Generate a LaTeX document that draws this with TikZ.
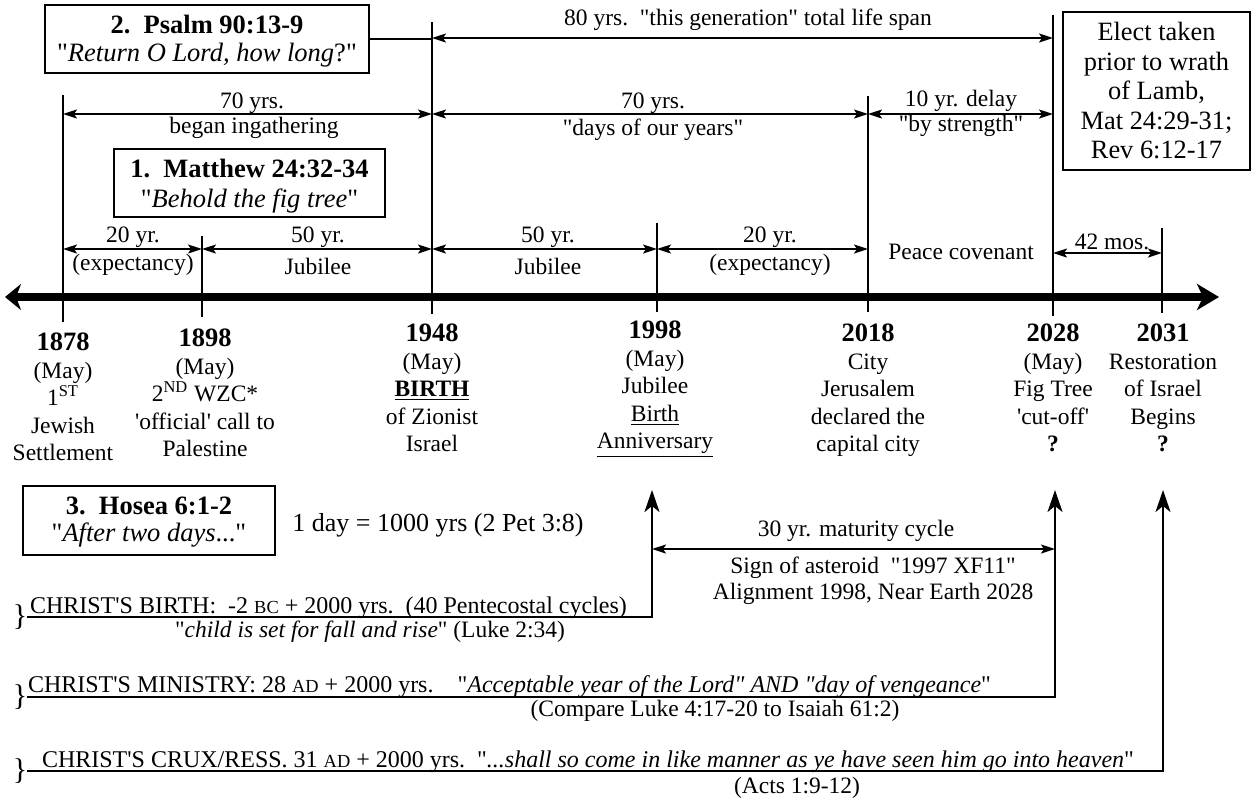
\documentclass[tikz,border=0pt]{standalone}
\usepackage{fontspec}
\setmainfont{Liberation Serif}
\usetikzlibrary{arrows.meta}
\newcommand\myDQ{\textquotedbl}
\newcommand\mySQ{\textquotesingle}
\newcommand\yrlab[1]{{\fontsize{13.25}{13.75}\selectfont\bfseries #1}}
\newcommand\smallc[1]{{\fontsize{9.2}{9.2}\selectfont #1}}
\begin{document}
\begin{tikzpicture}[x=0.5pt,y=-0.5pt,
 every node/.style={inner sep=0pt,outer sep=0pt},
 txt/.style={font=\fontsize{11.75}{13.75}\selectfont,align=center},
 lab/.style={txt,anchor=north},
 bigbox/.style={draw,line width=0.85pt,align=center},
 tick/.style={line width=1pt},
 span/.style={line width=0.9pt,{Stealth[length=7pt,width=4.5pt,inset=1.5pt]}-{Stealth[length=7pt,width=4.5pt,inset=1.5pt]}},
 timeline/.style={line width=4pt,{Stealth[length=8pt,width=13pt,inset=2.5pt]}-{Stealth[length=11pt,width=13pt,inset=3pt]}},
 botline/.style={line width=1.25pt,-{Stealth[length=11pt,width=7.5pt,inset=3pt]}},
 bracech/.style={font=\fontsize{15}{15}\selectfont},
 botxt/.style={font=\fontsize{12}{14}\selectfont,anchor=base west},
]
\useasboundingbox (0,0) rectangle (1256,800);

% main time line
\coordinate (tlL) at (5,297);
\coordinate (tlR) at (1219,297);
\draw[timeline] (tlL) -- (tlR);

% ticks
\coordinate (k1878a) at (63,95);   \coordinate (k1878b) at (63,322);
\coordinate (k1898a) at (202,236); \coordinate (k1898b) at (202,317);
\coordinate (k1948a) at (432,22);  \coordinate (k1948b) at (432,314);
\coordinate (k1998a) at (657,223); \coordinate (k1998b) at (657,312);
\coordinate (k2018a) at (868,96);  \coordinate (k2018b) at (868,312);
\coordinate (k2028a) at (1053,15); \coordinate (k2028b) at (1053,316);
\coordinate (k2031a) at (1162,228); \coordinate (k2031b) at (1162,313);
\draw[tick] (k1878a) -- (k1878b);
\draw[tick] (k1898a) -- (k1898b);
\draw[tick] (k1948a) -- (k1948b);
\draw[tick] (k1998a) -- (k1998b);
\draw[tick] (k2018a) -- (k2018b);
\draw[tick] (k2028a) -- (k2028b);
\draw[tick] (k2031a) -- (k2031b);

% 80 years
\coordinate (g80a) at (432,38); \coordinate (g80b) at (1053,38);
\draw[span] (g80a) -- (g80b);
\node[txt] (l80) at (748,20) {80 yrs.\ \ \myDQ this generation\myDQ\ total life span};

% Psalm box
\node[bigbox,minimum width=162pt,minimum height=34pt] (psalm) at (207,39) {};
\node[align=center,font=\fontsize{13.25}{14}\selectfont] (psalmtxt) at (207,41)
  {\textbf{2.\ \ Psalm 90:13-9}\\\myDQ\textit{Return O Lord, how long}?\myDQ};
\draw[tick] (psalm.east) -- (psalm.east -| g80a);

% 70 / 70 / 10
\coordinate (g70a) at (63,114); \coordinate (g70b) at (432,114);
\coordinate (g70c) at (868,114); \coordinate (g10) at (1053,114);
\draw[span] (g70a) -- (g70b);
\draw[span] (g70b) -- (g70c);
\draw[span] (g70c) -- (g10);
\node[txt] (l70a) at (252,103) {70 yrs.};
\node[txt] (l70a2) at (254,128) {began ingathering};
\node[txt] (l70b) at (653,103) {70 yrs.};
\node[txt] (l70b2) at (653,130) {\myDQ days of our years\myDQ};
\node[txt] (l10) at (961,101) {10 yr. delay};
\node[txt] (l10b) at (961,126) {\myDQ by strength\myDQ};

% Matthew box
\node[bigbox,minimum width=135.5pt,minimum height=34pt] (matt) at (249.5,183) {};
\node[align=center,font=\fontsize{13.25}{15}\selectfont] (matttxt) at (249.5,186)
  {\textbf{1.\ \ Matthew 24:32-34}\\\myDQ\textit{Behold the fig tree}\myDQ};

% Elect box
\node[bigbox,font=\fontsize{13.2}{14.75}\selectfont,minimum width=93.5pt,minimum height=79pt] (elect) at (1156.5,91)
  {Elect taken\\prior to wrath\\of Lamb,\\Mat 24:29-31;\\Rev 6:12-17};

% lower spans
\coordinate (j1) at (63,249); \coordinate (j2) at (202,249); \coordinate (j3) at (432,249);
\coordinate (j4) at (657,249); \coordinate (j5) at (868,249);
\coordinate (m1) at (1053,253); \coordinate (m2) at (1162,253);
\draw[span] (j1) -- (j2);
\draw[span] (j2) -- (j3);
\draw[span] (j3) -- (j4);
\draw[span] (j4) -- (j5);
\draw[span] (m1) -- (m2);
\node[txt] (s1) at (133,237) {20 yr.};
\node[txt] (s1b) at (133,265) {(expectancy)};
\node[txt] (s2) at (318,237) {50 yr.};
\node[txt] (s2b) at (318,266) {Jubilee};
\node[txt] (s3) at (548,237) {50 yr.};
\node[txt] (s3b) at (548,266) {Jubilee};
\node[txt] (s4) at (770,237) {20 yr.};
\node[txt] (s4b) at (770,265) {(expectancy)};
\node[txt] (peace) at (961,252) {Peace covenant};
\node[txt] (s42) at (1112,242) {42 mos.};

% year labels
\node[lab] (y1878) at (63,333) {\yrlab{1878}\\(May)\\1\textsuperscript{ST}\\Jewish\\Settlement};
\node[lab] (y1898) at (205,329) {\yrlab{1898}\\(May)\\2\textsuperscript{ND} WZC*\\\mySQ official\mySQ\ call to\\Palestine};
\node[lab] (y1948) at (432,324) {\yrlab{1948}\\(May)\\\underline{\textbf{BIRTH}}\\of Zionist\\Israel};
\node[lab] (y1998) at (655,321) {\yrlab{1998}\\(May)\\Jubilee\\\underline{Birth}\\\underline{Anniversary}};
\node[lab] (y2018) at (868,324) {\yrlab{2018}\\City\\Jerusalem\\declared the\\capital city};
\node[lab] (y2028) at (1053,324) {\yrlab{2028}\\(May)\\Fig Tree\\\mySQ cut-off\mySQ\\\textbf{?}};
\node[lab] (y2031) at (1163,324) {\yrlab{2031}\\Restoration\\of Israel\\Begins\\\textbf{?}};

% Hosea box
\node[bigbox,minimum width=126pt,minimum height=34.5pt] (hosea) at (149,520.5) {};
\node[align=center,font=\fontsize{13.25}{13.5}\selectfont] (hoseatxt) at (149,522)
  {\textbf{3.\ \ Hosea 6:1-2}\\\myDQ\textit{After two days}...\myDQ};
\node[font=\fontsize{13}{15}\selectfont] (oneday) at (438,525) {1 day = 1000 yrs (2 Pet 3:8)};

% bottom arrows
\coordinate (up1998) at (652,490);
\coordinate (up2028) at (1055,490);
\coordinate (up2031) at (1163,490);
\node[bracech] (br1) at (20,617) {\}};
\node[bracech] (br2) at (20,697) {\}};
\node[bracech] (br3) at (20,771) {\}};
\draw[botline] (br1.east) -| (up1998);
\draw[botline] (br2.east) -| (up2028);
\draw[botline] (br3.east) -| (up2031);

% 30 yr
\coordinate (c30a) at (652,549); \coordinate (c30b) at (1055,549);
\draw[span] (c30a) -- (c30b);
\node[txt] (l30) at (856,531) {30 yr. maturity cycle};
\node[txt,font=\fontsize{11.75}{13}\selectfont] (l30b) at (873,581) {Sign of asteroid\ \ \myDQ 1997 XF11\myDQ\\Alignment 1998, Near Earth 2028};

% bottom texts
\node[botxt] (tb1) at (30,613) {CHRIST\mySQ S BIRTH:\ \ -2 \smallc{BC} + 2000 yrs.\ \ (40 Pentecostal cycles)};
\node[txt] (tb1b) at (370,632) {\myDQ\textit{child is set for fall and rise}\myDQ\ (Luke 2:34)};
\node[botxt] (tb2) at (28,692) {CHRIST\mySQ S MINISTRY: 28 \smallc{AD} + 2000 yrs.\hspace{1em}\myDQ\textit{Acceptable year of the Lord\myDQ\ AND \myDQ day of vengeance}\myDQ};
\node[txt] (tb2b) at (715,711) {(Compare Luke 4:17-20 to Isaiah 61:2)};
\node[botxt] (tb3) at (42,767) {CHRIST\mySQ S CRUX/RESS. 31 \smallc{AD} + 2000 yrs.\ \ \myDQ\textit{...shall so come in like manner as ye have seen him go into heaven}\myDQ};
\node[txt] (tb3b) at (797,788) {(Acts 1:9-12)};
\end{tikzpicture}
\end{document}
